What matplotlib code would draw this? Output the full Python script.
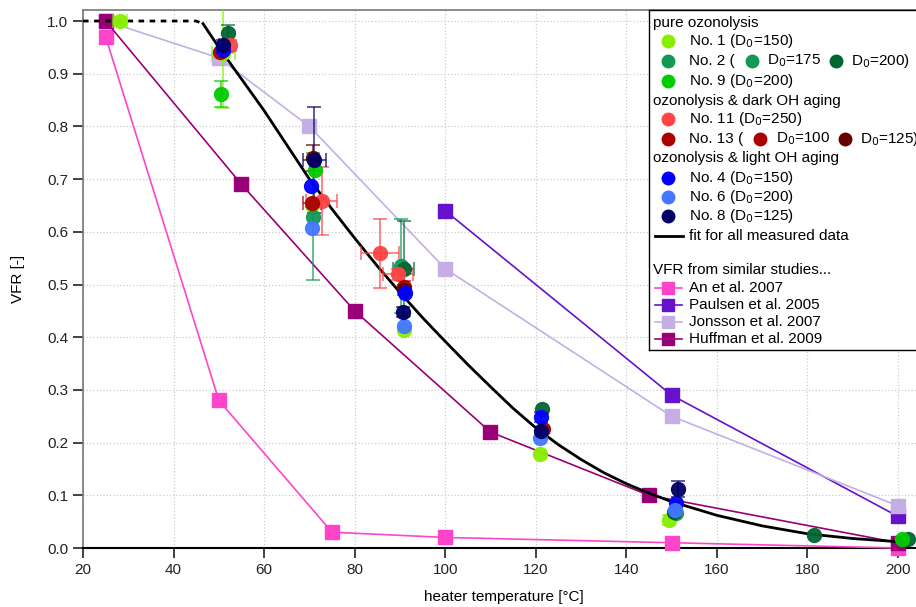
import matplotlib.pyplot as plt
import numpy as np

plt.rcParams['font.family'] = ['Liberation Sans', 'DejaVu Sans']
plt.rcParams['font.size'] = 11

# --- literature data ---
an_T = [25, 50, 75, 100, 150, 200]
an_V = [0.97, 0.28, 0.03, 0.02, 0.01, 0.0]
paulsen_T = [100, 150, 200]
paulsen_V = [0.64, 0.29, 0.06]
jonsson_T = [25, 50, 70, 100, 150, 200]
jonsson_V = [1.0, 0.93, 0.80, 0.53, 0.25, 0.08]
huffman_T = [25, 55, 80, 110, 145, 200]
huffman_V = [1.0, 0.69, 0.45, 0.22, 0.10, 0.01]

# --- fit for all measured data ---
fit_dash_T = [20, 45, 46.5]
fit_dash_V = [1.0, 1.0, 0.995]
fit_T = [46.5, 50, 55, 60, 65, 70, 75, 80, 85, 90, 95, 100, 105, 110, 115, 120,
         125, 130, 135, 140, 145, 150, 160, 170, 180, 190, 200]
fit_V = [0.995, 0.95, 0.89, 0.83, 0.765, 0.70, 0.643, 0.588, 0.535, 0.485, 0.437,
         0.392, 0.348, 0.306, 0.265, 0.228, 0.196, 0.168, 0.143, 0.122, 0.104, 0.088,
         0.062, 0.042, 0.027, 0.018, 0.012]

# --- measured data (T, VFR, xerr, yerr) ---
no1_T = [28.2, 51.0, 70.5, 90.9, 121.0, 149.5]
no1_V = [1.0, 0.94, 0.651, 0.413, 0.178, 0.053]
no1_xe = [1.5, 2.5, 0, 0, 0, 0]
no1_ye = [0.005, 0.105, 0, 0, 0, 0.01]

no2a_T = [70.9, 90.3, 151.0]
no2a_V = [0.629, 0.535, 0.066]
no2a_xe = [0, 0, 0]
no2a_ye = [0.12, 0.09, 0]

no2b_T = [52.0, 90.8, 121.3, 150.6, 181.4, 202.3]
no2b_V = [0.977, 0.530, 0.263, 0.068, 0.024, 0.0165]
no2b_xe = [0, 2.4, 0, 0, 0, 0]
no2b_ye = [0.015, 0.09, 0, 0, 0, 0]

no9_T = [50.4, 71.2, 200.8]
no9_V = [0.861, 0.717, 0.0165]
no9_xe = [0, 0, 0]
no9_ye = [0.025, 0, 0]

no11_T = [52.5, 72.7, 85.6, 89.6]
no11_V = [0.954, 0.658, 0.559, 0.519]
no11_xe = [0, 3.5, 4.3, 3.3]
no11_ye = [0.01, 0.065, 0.065, 0.01]

no13a_T = [50.2, 70.5, 90.9, 121.7]
no13a_V = [0.942, 0.655, 0.496, 0.225]
no13a_xe = [0, 2.0, 0, 0]
no13a_ye = [0, 0, 0.01, 0]

no13b_T = [70.8, 91.0]
no13b_V = [0.74, 0.49]
no13b_xe = [0, 0]
no13b_ye = [0.025, 0.01]

no4_T = [51.0, 70.4, 91.1, 121.1, 151.0]
no4_V = [0.945, 0.686, 0.483, 0.249, 0.085]
no4_xe = [0, 0, 0, 0, 0]
no4_ye = [0, 0, 0, 0.01, 0]

no6_T = [70.6, 90.9, 121.0, 150.8]
no6_V = [0.608, 0.421, 0.209, 0.073]
no6_xe = [0, 0, 0, 0]
no6_ye = [0, 0, 0, 0]

no8_T = [51.0, 71.1, 90.7, 121.2, 151.5]
no8_V = [0.954, 0.736, 0.448, 0.222, 0.112]
no8_xe = [1.0, 2.6, 0, 0, 0]
no8_ye = [0.01, 0.1, 0.01, 0, 0.015]

c_no1 = '#88ee00'
c_no2a = '#119955'
c_no2b = '#006633'
c_no9 = '#00cc00'
c_no11 = '#ff4444'
c_no13a = '#aa0000'
c_no13b = '#660000'
c_no4 = '#0000ff'
c_no6 = '#4477ff'
c_no8 = '#000066'
c_an = '#ff44cc'
c_paulsen = '#6611cc'
c_jonsson = '#c4aee4'
c_huffman = '#990077'

fig = plt.figure(figsize=(9.16, 6.07), dpi=100)
ax = fig.add_axes([83/916, 59/607, 1 - 83/916 + 0.01, 538/607])

ax.set_xlim(20, 206)
ax.set_ylim(0, 1.0209)

ax.grid(True, color='#cccccc', linestyle=':', linewidth=0.9)
ax.set_axisbelow(True)

# literature lines
for T, V, c in [(an_T, an_V, c_an), (paulsen_T, paulsen_V, c_paulsen),
                (jonsson_T, jonsson_V, c_jonsson), (huffman_T, huffman_V, c_huffman)]:
    ax.plot(T, V, color=c, lw=1.2, marker='s', ms=9.5, mec=c, mfc=c,
            clip_on=False, zorder=3)

# fit
ax.plot(fit_dash_T, fit_dash_V, color='black', lw=2, ls=(0, (2, 2)), zorder=4)
ax.plot(fit_T, fit_V, color='black', lw=2, zorder=4)

series = [
    (no1_T, no1_V, no1_xe, no1_ye, c_no1),
    (no2a_T, no2a_V, no2a_xe, no2a_ye, c_no2a),
    (no2b_T, no2b_V, no2b_xe, no2b_ye, c_no2b),
    (no9_T, no9_V, no9_xe, no9_ye, c_no9),
    (no11_T, no11_V, no11_xe, no11_ye, c_no11),
    (no13a_T, no13a_V, no13a_xe, no13a_ye, c_no13a),
    (no13b_T, no13b_V, no13b_xe, no13b_ye, c_no13b),
    (no4_T, no4_V, no4_xe, no4_ye, c_no4),
    (no6_T, no6_V, no6_xe, no6_ye, c_no6),
    (no8_T, no8_V, no8_xe, no8_ye, c_no8),
]
for T, V, xe, ye, c in series:
    T = np.array(T); V = np.array(V); xe = np.array(xe, float); ye = np.array(ye, float)
    m = (xe > 0) | (ye > 0)
    if m.any():
        ax.errorbar(T[m], V[m], xerr=xe[m], yerr=ye[m], fmt='none', ecolor=c,
                    elinewidth=1.2, capsize=5, capthick=1.2, alpha=0.75, zorder=5)
    ax.plot(T, V, ls='none', marker='o', ms=10, mfc=c, mec=c, alpha=0.95,
            clip_on=False, zorder=6)

ax.set_xticks(np.arange(20, 201, 20))
ax.set_yticks(np.arange(0, 1.01, 0.1))
ax.set_yticklabels(['%.1f' % v for v in np.arange(0, 1.01, 0.1)])
ax.tick_params(direction='out', length=7, width=1.2, colors='#222222', labelsize=11)
for s in ['left', 'top', 'right']:
    ax.spines[s].set_color('#777777')
ax.spines['bottom'].set_color('black')
ax.spines['bottom'].set_linewidth(1.5)
ax.spines['left'].set_linewidth(1.2)
ax.spines['top'].set_linewidth(1.2)
ax.set_xlabel('heater temperature [°C]', fontsize=11, labelpad=10)
ax.set_ylabel('VFR [-]', fontsize=11, labelpad=16)

# --- legend drawn in pixel coordinates ---
lax = fig.add_axes([649/916, (607-350)/607, 300/916, 340/607], zorder=10)
lax.set_xlim(649, 949)
lax.set_ylim(350, 10)
lax.set_xticks([]); lax.set_yticks([])
for s in lax.spines.values():
    s.set_color('black'); s.set_linewidth(1.0)

def head(y, s):
    lax.text(653, y, s, va='center', ha='left', fontsize=11)

def dot(x, y, c):
    lax.plot([x], [y], 'o', ms=9, mfc=c, mec=c)

def txt(x, y, s):
    lax.text(x, y, s, va='center', ha='left', fontsize=11)

head(23, 'pure ozonolysis')
dot(668, 41, c_no1); txt(689, 41, 'No. 1 (D$_0$=150)')
dot(668, 61, c_no2a); txt(689, 61, 'No. 2 (')
dot(752, 61, c_no2a); txt(767, 61, 'D$_0$=175')
dot(836, 61, c_no2b); txt(851, 61, 'D$_0$=200)')
dot(668, 81, c_no9); txt(689, 81, 'No. 9 (D$_0$=200)')
head(101, 'ozonolysis & dark OH aging')
dot(668, 119, c_no11); txt(689, 119, 'No. 11 (D$_0$=250)')
dot(668, 139, c_no13a); txt(689, 139, 'No. 13 (')
dot(760, 139, c_no13a); txt(776, 139, 'D$_0$=100')
dot(845, 139, c_no13b); txt(860, 139, 'D$_0$=125)')
head(158, 'ozonolysis & light OH aging')
dot(668, 178, c_no4); txt(689, 178, 'No. 4 (D$_0$=150)')
dot(668, 197, c_no6); txt(689, 197, 'No. 6 (D$_0$=200)')
dot(668, 216, c_no8); txt(689, 216, 'No. 8 (D$_0$=125)')
lax.plot([655, 683], [236, 236], color='black', lw=2)
txt(689, 236, 'fit for all measured data')
head(270, 'VFR from similar studies...')
for y, c, s in [(288, c_an, 'An et al. 2007'), (305, c_paulsen, 'Paulsen et al. 2005'),
                (322, c_jonsson, 'Jonsson et al. 2007'), (339, c_huffman, 'Huffman et al. 2009')]:
    lax.plot([655, 682], [y, y], color=c, lw=1.2)
    lax.plot([668], [y], 's', ms=8, mfc=c, mec=c)
    txt(689, y, s)

plt.savefig('out.png', dpi=100)
plt.close()
